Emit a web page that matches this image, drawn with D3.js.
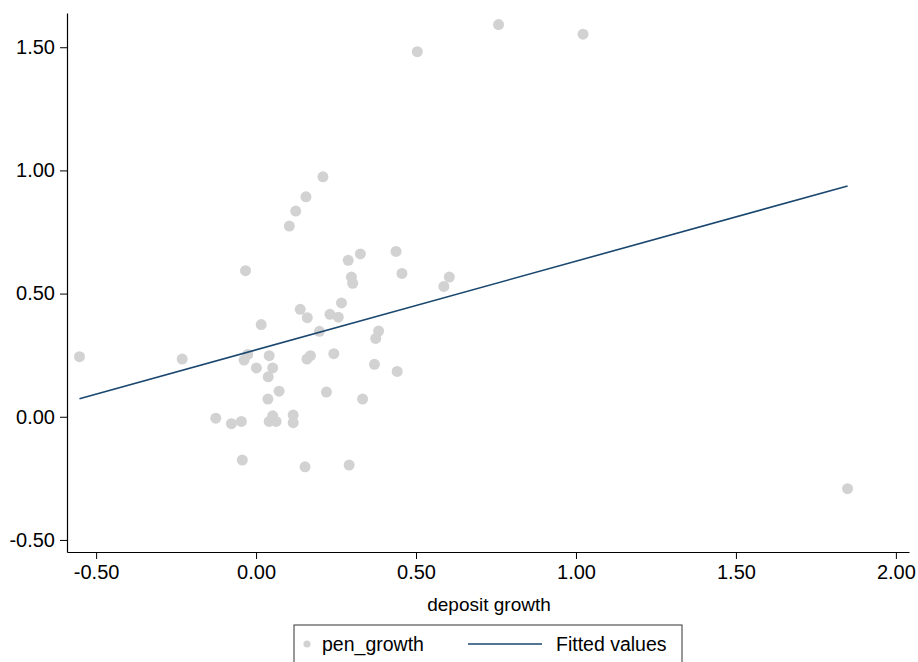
<!DOCTYPE html>
<html>
<head>
<meta charset="utf-8">
<script src="https://cdn.jsdelivr.net/npm/d3@7"></script>
<style>
  body { margin: 0; background: #fff; }
  svg { display: block; font-family: "Liberation Sans", Arial, Helvetica, sans-serif; }
</style>
</head>
<body>
<div id="chart"></div>
<script>
// deposit growth (x) vs pen_growth (y)
const depositGrowth = [
  0.209, 0.156, 0.124, 0.104, -0.033, 0.288, 0.326, 0.4375, 0.456, 0.298,
  0.302, 0.604, 0.587, 0.267, 0.138, 0.160, 0.231, 0.257, 0.016, 0.198,
  0.383, 0.374, -0.026, -0.0375, 0.041, 0.170, 0.159, 0.243, 0.001, 0.052,
  0.038, 0.370, 0.441, 0.072, 0.037, 0.220, 0.333, -0.126, -0.077, -0.046,
  0.052, 0.041, 0.0625, 0.116, 0.116, -0.043, 0.153, 0.291, -0.552, -0.231,
  0.504, 0.758, 1.022, 1.849
]
const penGrowth = [
  0.974, 0.893, 0.835, 0.774, 0.593, 0.635, 0.661, 0.671, 0.582, 0.567,
  0.542, 0.567, 0.529, 0.462, 0.436, 0.402, 0.416, 0.404, 0.374, 0.347,
  0.348, 0.318, 0.253, 0.230, 0.248, 0.248, 0.234, 0.256, 0.198, 0.198,
  0.162, 0.213, 0.184, 0.104, 0.072, 0.100, 0.072, -0.006, -0.028, -0.019,
  0.004, -0.019, -0.019, 0.007, -0.024, -0.176, -0.203, -0.196, 0.244, 0.234,
  1.482, 1.592, 1.553, -0.292
]
// fitted line end points
const fittedX = [-0.552, 1.849]
const fittedY = [0.073, 0.937]

const xTicks = [-0.5, 0, 0.5, 1, 1.5, 2]
const yTicks = [-0.5, 0, 0.5, 1, 1.5]

const W = 918, H = 662
const padL = 67, padR = 909, padT = 13, padB = 552

const svg = d3.select("#chart").append("svg").attr("width", W).attr("height", H)

const x = d3.scaleLinear().domain([-0.591, 2.041]).range([padL, padR])
const y = d3.scaleLinear().domain([-0.549, 1.639]).range([padB, padT])

// plain hyphen for negatives, like the original
const fmt = d => d3.format(".2f")(d).replace("\u2212", "-")

// axes
const xAxis = d3.axisBottom(x).tickValues(xTicks).tickFormat(fmt).tickSize(7).tickPadding(6).tickSizeOuter(0)
const yAxis = d3.axisLeft(y).tickValues(yTicks).tickFormat(fmt).tickSize(7).tickPadding(5).tickSizeOuter(0)

const gx = svg.append("g").attr("transform", `translate(0,${padB})`).call(xAxis)
const gy = svg.append("g").attr("transform", `translate(${padL},0)`).call(yAxis)

;[gx, gy].forEach(g => {
  g.select(".domain").attr("stroke", "#000").attr("stroke-width", 1.2)
  g.selectAll(".tick line").attr("stroke", "#000").attr("stroke-width", 1)
  g.selectAll(".tick text").attr("fill", "#000").style("font-size", "20px")
    .style("font-family", "'Liberation Sans', Arial, sans-serif")
})

svg.append("text")
  .attr("x", (padL + padR) / 2 + 1).attr("y", 611)
  .attr("text-anchor", "middle")
  .style("font-size", "19px")
  .text("deposit growth")

// scatter
const pts = depositGrowth.map((d, i) => ({x: d, y: penGrowth[i]}))
svg.append("g").selectAll("circle").data(pts).join("circle")
  .attr("cx", d => x(d.x)).attr("cy", d => y(d.y))
  .attr("r", 5.5).attr("fill", "#d2d2d2")

// fitted values
const line = d3.line().x(d => x(d[0])).y(d => y(d[1]))
svg.append("path")
  .datum(fittedX.map((d, i) => [d, fittedY[i]]))
  .attr("d", line)
  .attr("fill", "none").attr("stroke", "#1a476f").attr("stroke-width", 1.6)

// legend
const lg = svg.append("g")
lg.append("rect").attr("x", 294).attr("y", 625).attr("width", 388).attr("height", 60)
  .attr("fill", "#fff").attr("stroke", "#333").attr("stroke-width", 1)
lg.append("circle").attr("cx", 307).attr("cy", 644).attr("r", 3.6).attr("fill", "#d2d2d2")
lg.append("text").attr("x", 322).attr("y", 651).style("font-size", "19.5px").text("pen_growth")
lg.append("line").attr("x1", 468).attr("x2", 542).attr("y1", 644).attr("y2", 644)
  .attr("stroke", "#1a476f").attr("stroke-width", 1.6)
lg.append("text").attr("x", 556).attr("y", 651).style("font-size", "19.5px").text("Fitted values")
</script>
</body>
</html>
